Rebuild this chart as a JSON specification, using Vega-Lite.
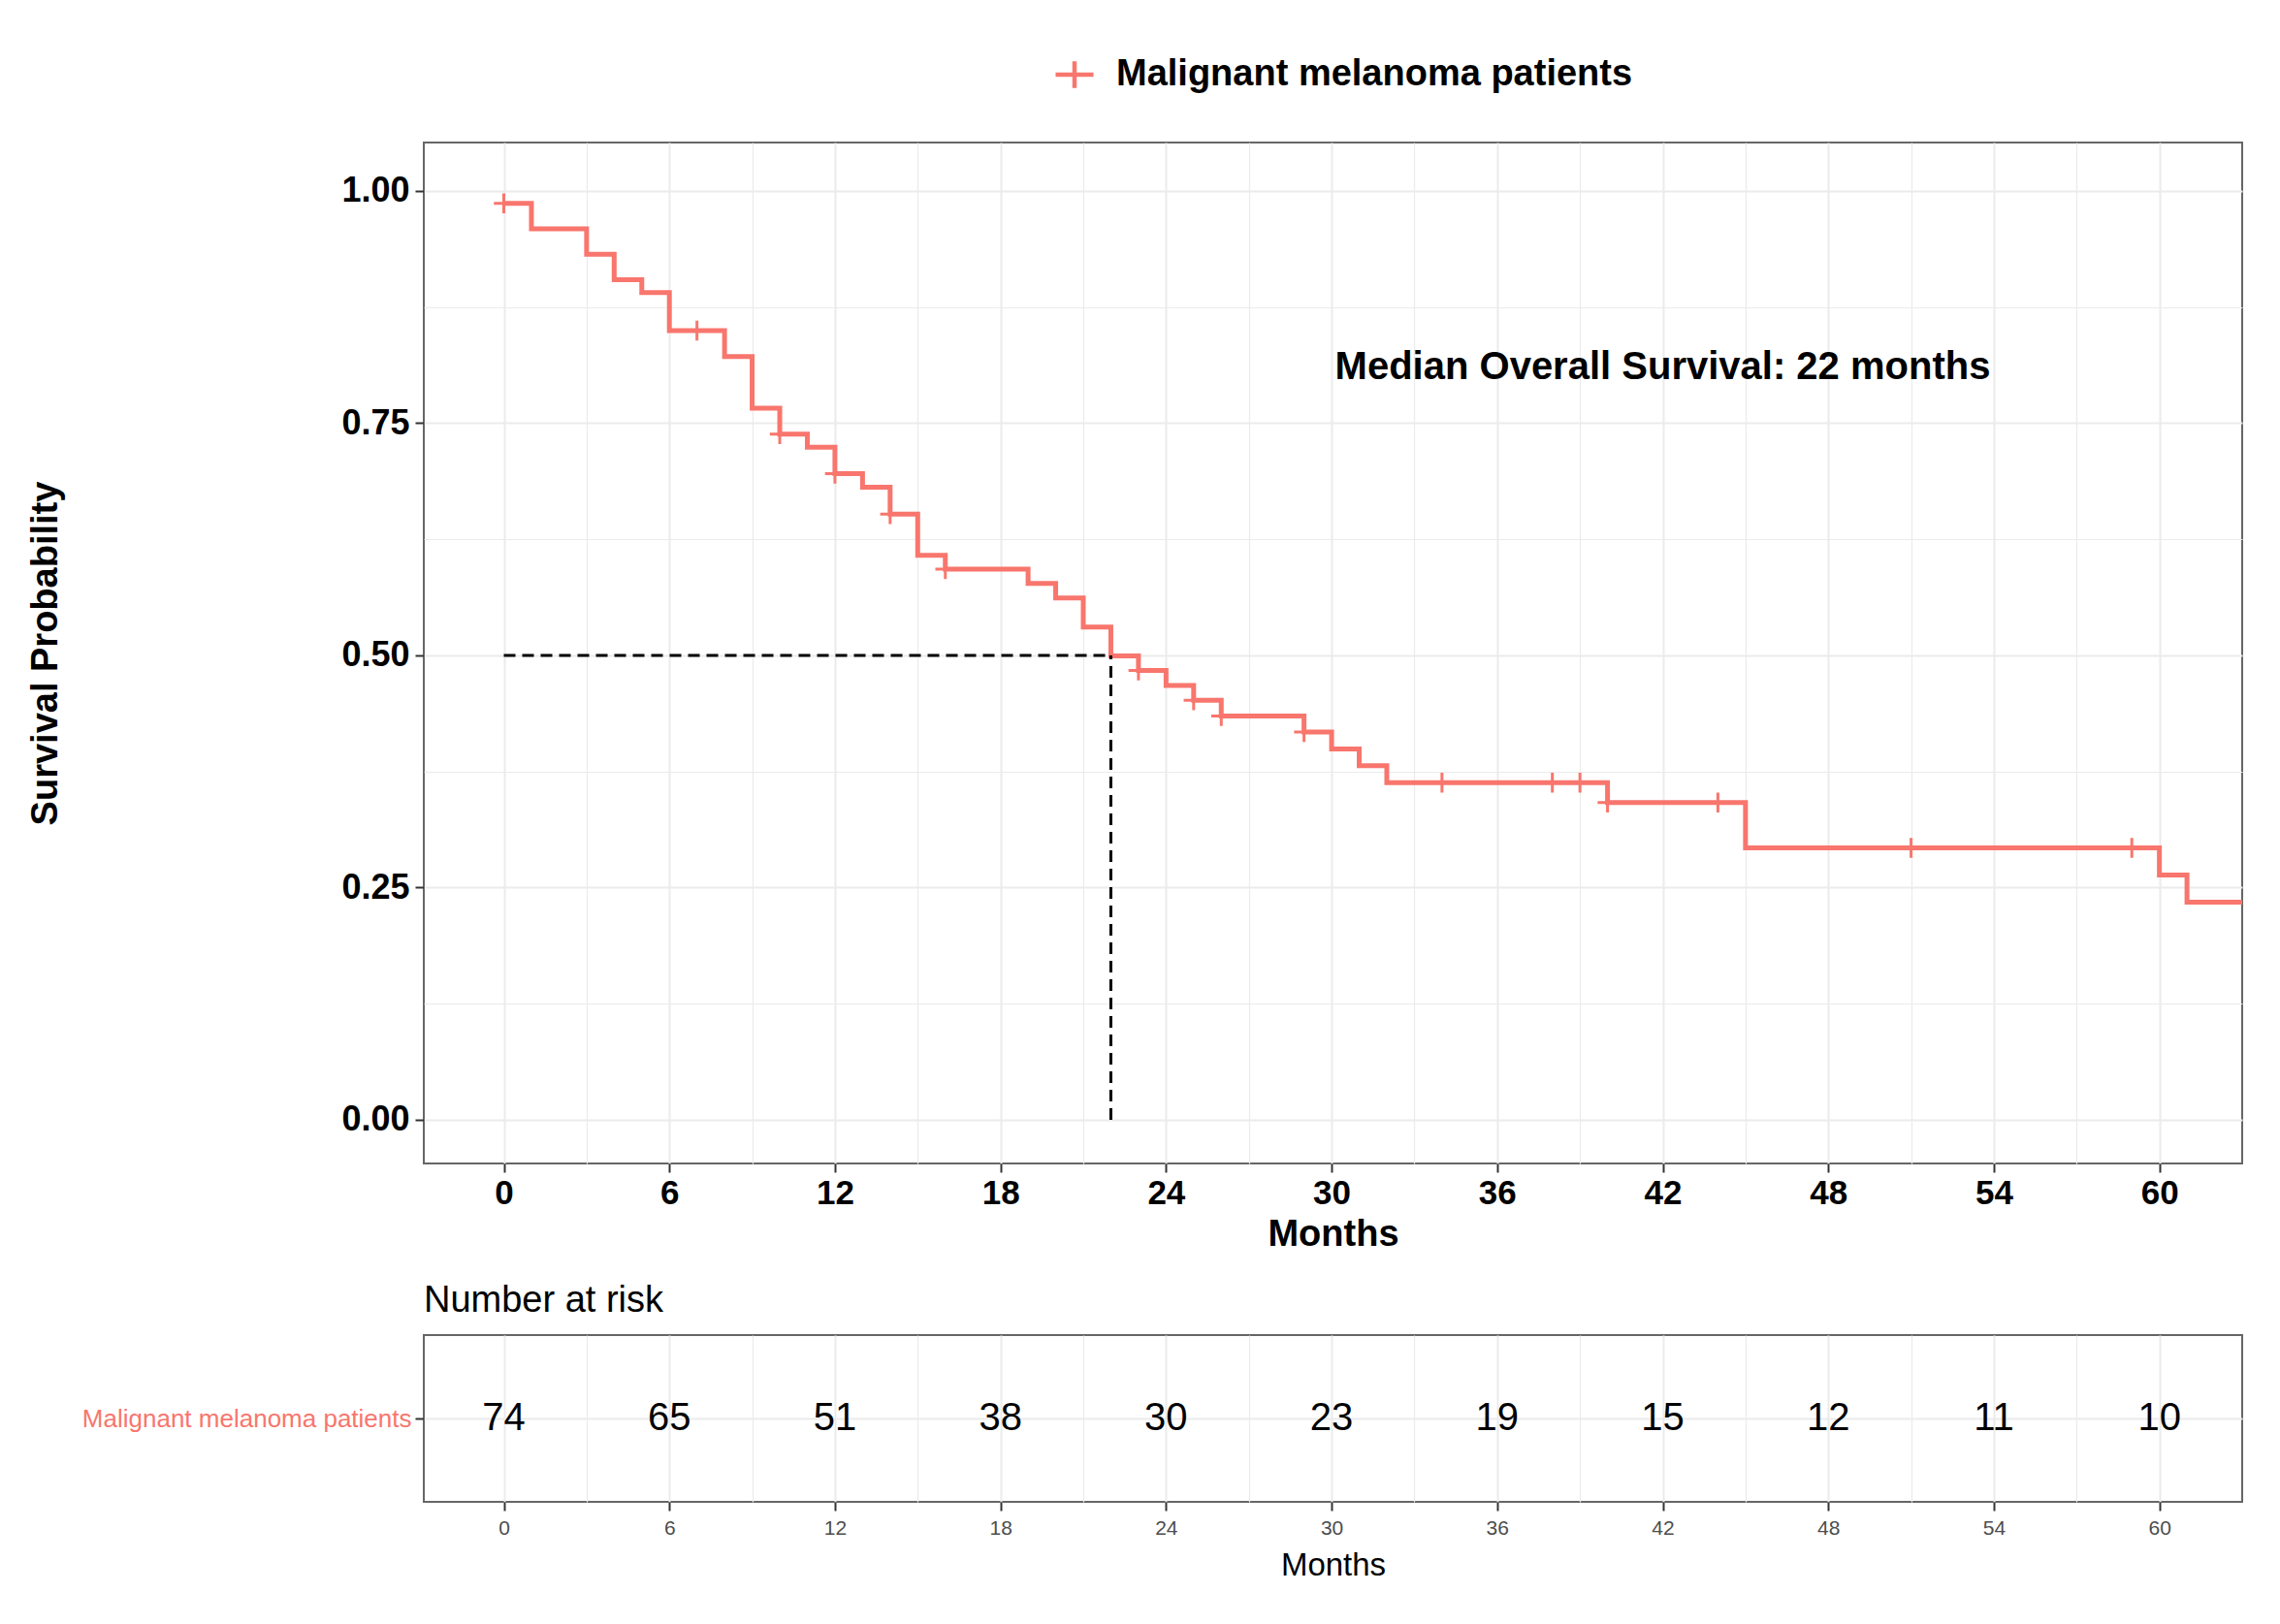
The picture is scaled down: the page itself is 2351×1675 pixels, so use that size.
{
  "$schema": "https://vega.github.io/schema/vega-lite/v6.json",
  "background": "white",
  "padding": {"left": 27, "top": 54, "right": 29, "bottom": 10},
  "config": {
    "font": "Liberation Sans",
    "view": {"stroke": "#666666", "strokeWidth": 2}
  },
  "datasets": {
    "km": [
      {"t": 0, "s": 0.9865, "g": "Malignant melanoma patients"},
      {"t": 1, "s": 0.9591, "g": "Malignant melanoma patients"},
      {"t": 3, "s": 0.9317, "g": "Malignant melanoma patients"},
      {"t": 4, "s": 0.9043, "g": "Malignant melanoma patients"},
      {"t": 5, "s": 0.8906, "g": "Malignant melanoma patients"},
      {"t": 6, "s": 0.8495, "g": "Malignant melanoma patients"},
      {"t": 8, "s": 0.8217, "g": "Malignant melanoma patients"},
      {"t": 9, "s": 0.766, "g": "Malignant melanoma patients"},
      {"t": 10, "s": 0.7382, "g": "Malignant melanoma patients"},
      {"t": 11, "s": 0.724, "g": "Malignant melanoma patients"},
      {"t": 12, "s": 0.6956, "g": "Malignant melanoma patients"},
      {"t": 13, "s": 0.6811, "g": "Malignant melanoma patients"},
      {"t": 14, "s": 0.6521, "g": "Malignant melanoma patients"},
      {"t": 15, "s": 0.6077, "g": "Malignant melanoma patients"},
      {"t": 16, "s": 0.5929, "g": "Malignant melanoma patients"},
      {"t": 19, "s": 0.5773, "g": "Malignant melanoma patients"},
      {"t": 20, "s": 0.5617, "g": "Malignant melanoma patients"},
      {"t": 21, "s": 0.5305, "g": "Malignant melanoma patients"},
      {"t": 22, "s": 0.4993, "g": "Malignant melanoma patients"},
      {"t": 23, "s": 0.4837, "g": "Malignant melanoma patients"},
      {"t": 24, "s": 0.4676, "g": "Malignant melanoma patients"},
      {"t": 25, "s": 0.4515, "g": "Malignant melanoma patients"},
      {"t": 26, "s": 0.4347, "g": "Malignant melanoma patients"},
      {"t": 29, "s": 0.4174, "g": "Malignant melanoma patients"},
      {"t": 30, "s": 0.3992, "g": "Malignant melanoma patients"},
      {"t": 31, "s": 0.3811, "g": "Malignant melanoma patients"},
      {"t": 32, "s": 0.3629, "g": "Malignant melanoma patients"},
      {"t": 40, "s": 0.3416, "g": "Malignant melanoma patients"},
      {"t": 45, "s": 0.2928, "g": "Malignant melanoma patients"},
      {"t": 60, "s": 0.2635, "g": "Malignant melanoma patients"},
      {"t": 61, "s": 0.2342, "g": "Malignant melanoma patients"},
      {"t": 63, "s": 0.2342, "g": "Malignant melanoma patients"}
    ],
    "censor": [
      {"t": 0, "s": 0.9865}, {"t": 7, "s": 0.8495}, {"t": 10, "s": 0.7382},
      {"t": 12, "s": 0.6956}, {"t": 14, "s": 0.6521}, {"t": 16, "s": 0.5929},
      {"t": 23, "s": 0.4837}, {"t": 25, "s": 0.4515}, {"t": 26, "s": 0.4347},
      {"t": 29, "s": 0.4174}, {"t": 34, "s": 0.3629}, {"t": 38, "s": 0.3629},
      {"t": 39, "s": 0.3629}, {"t": 40, "s": 0.3416}, {"t": 44, "s": 0.3416},
      {"t": 51, "s": 0.2928}, {"t": 59, "s": 0.2928}
    ],
    "median": [
      {"x": 0, "x2": 22, "y": 0.5, "y2": 0.5},
      {"x": 22, "x2": 22, "y": 0, "y2": 0.5}
    ],
    "note": [
      {"t": 42, "s": 0.81, "label": "Median Overall Survival: 22 months"}
    ],
    "risk": [
      {"t": 0, "n": 74, "g": "Malignant melanoma patients"},
      {"t": 6, "n": 65, "g": "Malignant melanoma patients"},
      {"t": 12, "n": 51, "g": "Malignant melanoma patients"},
      {"t": 18, "n": 38, "g": "Malignant melanoma patients"},
      {"t": 24, "n": 30, "g": "Malignant melanoma patients"},
      {"t": 30, "n": 23, "g": "Malignant melanoma patients"},
      {"t": 36, "n": 19, "g": "Malignant melanoma patients"},
      {"t": 42, "n": 15, "g": "Malignant melanoma patients"},
      {"t": 48, "n": 12, "g": "Malignant melanoma patients"},
      {"t": 54, "n": 11, "g": "Malignant melanoma patients"},
      {"t": 60, "n": 10, "g": "Malignant melanoma patients"}
    ]
  },
  "spacing": 29,
  "resolve": {"legend": {"color": "independent"}},
  "vconcat": [
    {
      "width": 1875,
      "height": 1053,
      "layer": [
        {
          "data": {"name": "km"},
          "mark": {"type": "line", "interpolate": "step-after", "strokeWidth": 5, "clip": true},
          "encoding": {
            "x": {
              "field": "t", "type": "quantitative",
              "scale": {"domain": [-2.9, 63], "nice": false, "zero": false},
              "axis": {
                "title": "Months",
                "values": [0, 3, 6, 9, 12, 15, 18, 21, 24, 27, 30, 33, 36, 39, 42, 45, 48, 51, 54, 57, 60],
                "labelExpr": "datum.value % 6 === 0 ? datum.label : ''",
                "domain": false,
                "grid": true,
                "gridColor": "#EBEBEB",
                "gridWidth": {"condition": {"test": "datum.value % 6 !== 0", "value": 1.2}, "value": 2},
                "ticks": true,
                "tickSize": 9,
                "tickWidth": 2,
                "tickColor": {"condition": {"test": "datum.value % 6 !== 0", "value": "transparent"}, "value": "#333333"},
                "labelFontSize": 35,
                "labelFontWeight": "bold",
                "labelColor": "#000000",
                "labelPadding": 4,
                "labelFlush": false,
                "titleFontSize": 38,
                "titleFontWeight": "bold",
                "titleColor": "#000000",
                "titlePadding": 6
              }
            },
            "y": {
              "field": "s", "type": "quantitative",
              "scale": {"domain": [-0.047, 1.052], "nice": false, "zero": false},
              "axis": {
                "title": "Survival Probability",
                "values": [0, 0.125, 0.25, 0.375, 0.5, 0.625, 0.75, 0.875, 1],
                "format": ".2f",
                "labelExpr": "(datum.value * 8) % 2 === 0 ? datum.label : ''",
                "domain": false,
                "grid": true,
                "gridColor": "#EBEBEB",
                "gridWidth": {"condition": {"test": "(datum.value * 8) % 2 !== 0", "value": 1.2}, "value": 2},
                "tickSize": 9,
                "tickWidth": 2,
                "tickColor": {"condition": {"test": "(datum.value * 8) % 2 !== 0", "value": "transparent"}, "value": "#333333"},
                "labelFontSize": 36,
                "labelFontWeight": "bold",
                "labelColor": "#000000",
                "labelPadding": 6,
                "labelFlush": false,
                "titleFontSize": 38,
                "titleFontWeight": "bold",
                "titleColor": "#000000",
                "titlePadding": 285
              }
            },
            "color": {
              "field": "g", "type": "nominal",
              "scale": {"range": ["#F8766D"]},
              "legend": {
                "title": null,
                "orient": "none",
                "legendX": 649,
                "legendY": -92,
                "padding": 0,
                "symbolType": "M-1,0L1,0M0,-0.7L0,0.7",
                "symbolSize": 1521,
                "symbolStrokeWidth": 4.5,
                "symbolFillColor": "transparent",
                "symbolStrokeColor": "#F8766D",
                "labelFontSize": 38,
                "labelFontWeight": "bold",
                "labelColor": "#000000",
                "labelOffset": 21,
                "labelLimit": 1000
              }
            }
          }
        },
        {
          "data": {"name": "censor"},
          "mark": {"type": "point", "shape": "M-1,0L1,0M0,-1L0,1", "size": 420, "strokeWidth": 3, "filled": false, "color": "#F8766D", "opacity": 1},
          "encoding": {
            "x": {"field": "t", "type": "quantitative"},
            "y": {"field": "s", "type": "quantitative"}
          }
        },
        {
          "data": {"name": "median"},
          "mark": {"type": "rule", "strokeDash": [12, 7], "strokeWidth": 3, "color": "#000000"},
          "encoding": {
            "x": {"field": "x", "type": "quantitative"},
            "x2": {"field": "x2"},
            "y": {"field": "y", "type": "quantitative"},
            "y2": {"field": "y2"}
          }
        },
        {
          "data": {"name": "note"},
          "mark": {"type": "text", "fontSize": 40, "fontWeight": "bold", "align": "center", "baseline": "middle", "color": "#000000"},
          "encoding": {
            "x": {"field": "t", "type": "quantitative"},
            "y": {"field": "s", "type": "quantitative"},
            "text": {"field": "label"}
          }
        }
      ]
    },
    {
      "width": 1875,
      "height": 172,
      "title": {
        "text": "Number at risk",
        "anchor": "start",
        "frame": "group",
        "fontSize": 38,
        "fontWeight": "normal",
        "color": "#000000",
        "offset": 16
      },
      "data": {"name": "risk"},
      "mark": {"type": "text", "fontSize": 40, "color": "#000000", "align": "center", "baseline": "middle"},
      "encoding": {
        "x": {
          "field": "t", "type": "quantitative",
          "scale": {"domain": [-2.9, 63], "nice": false, "zero": false},
          "axis": {
            "title": "Months",
            "values": [0, 3, 6, 9, 12, 15, 18, 21, 24, 27, 30, 33, 36, 39, 42, 45, 48, 51, 54, 57, 60],
            "labelExpr": "datum.value % 6 === 0 ? datum.label : ''",
            "domain": false,
            "grid": true,
            "gridColor": "#EBEBEB",
            "gridWidth": {"condition": {"test": "datum.value % 6 !== 0", "value": 1.2}, "value": 2},
            "tickSize": 9,
            "tickWidth": 2,
            "tickColor": {"condition": {"test": "datum.value % 6 !== 0", "value": "transparent"}, "value": "#333333"},
            "labelFontSize": 21,
            "labelColor": "#4D4D4D",
            "labelPadding": 7,
            "labelFlush": false,
            "titleFontSize": 33,
            "titleFontWeight": "normal",
            "titleColor": "#000000",
            "titlePadding": 12
          }
        },
        "y": {
          "field": "g", "type": "nominal",
          "axis": {
            "title": null,
            "domain": false,
            "grid": true,
            "gridColor": "#EBEBEB",
            "gridWidth": 2,
            "tickSize": 9,
            "tickWidth": 2,
            "tickColor": "#333333",
            "labelFontSize": 26,
            "labelColor": "#F8766D",
            "labelPadding": 4,
            "labelLimit": 1000
          }
        },
        "text": {"field": "n", "type": "quantitative"}
      }
    }
  ]
}
